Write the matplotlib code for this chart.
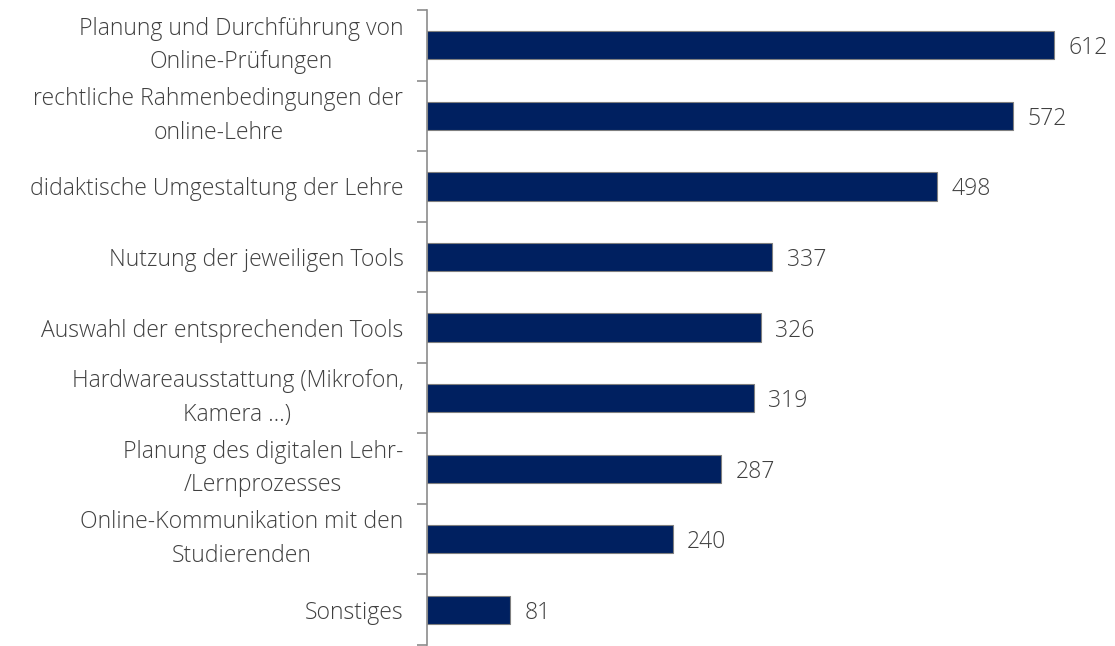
import matplotlib
matplotlib.use("Agg")
import matplotlib.pyplot as plt
import numpy as np

categories = [
    "Planung und Durchführung von\nOnline-Prüfungen",
    "rechtliche Rahmenbedingungen der\nonline-Lehre",
    "didaktische Umgestaltung der Lehre",
    "Nutzung der jeweiligen Tools",
    "Auswahl der entsprechenden Tools",
    "Hardwareausstattung (Mikrofon,\nKamera …)",
    "Planung des digitalen Lehr-\n/Lernprozesses",
    "Online-Kommunikation mit den\nStudierenden",
    "Sonstiges",
]
values = [612, 572, 498, 337, 326, 319, 287, 240, 81]

plt.rcParams['font.family'] = ['Open Sans', 'DejaVu Sans']

W, H = 1115, 646
fig = plt.figure(figsize=(W / 100, H / 100), dpi=100)
ax = fig.add_axes([427 / W, 1 / H, 1 - 427 / W, (645 - 10) / H])

y = np.arange(len(categories))
ax.barh(y, values, height=0.4, color="#002060", edgecolor="#7f7f7f", linewidth=0.8)
ax.set_xlim(0, (W - 427) / 1.0245)
ax.set_ylim(len(categories) - 0.5, -0.5)

for yi, v in zip(y, values):
    ax.text(v + 14, yi, str(v), va="center_baseline", ha="left", fontsize=16.6,
            color="#404040", fontweight="light")

ax.set_yticks(y)
ax.set_yticklabels(categories, fontsize=16.6, color="#404040", fontweight="light",
                   linespacing=1.53, multialignment="center")
for lab in ax.get_yticklabels():
    if "\n" in lab.get_text():
        lab.set_verticalalignment("center")
ax.tick_params(axis="y", which="major", length=0, pad=17)
ax.set_yticks(np.arange(-0.5, len(categories) + 0.5, 1), minor=True)
ax.tick_params(axis="y", which="minor", length=7, color="#8c8c8c", width=1.2)
ax.set_xticks([])
for s in ["top", "right", "bottom"]:
    ax.spines[s].set_visible(False)
ax.spines["left"].set_color("#8c8c8c")
ax.spines["left"].set_linewidth(1.2)

fig.savefig("out.png", dpi=100)
